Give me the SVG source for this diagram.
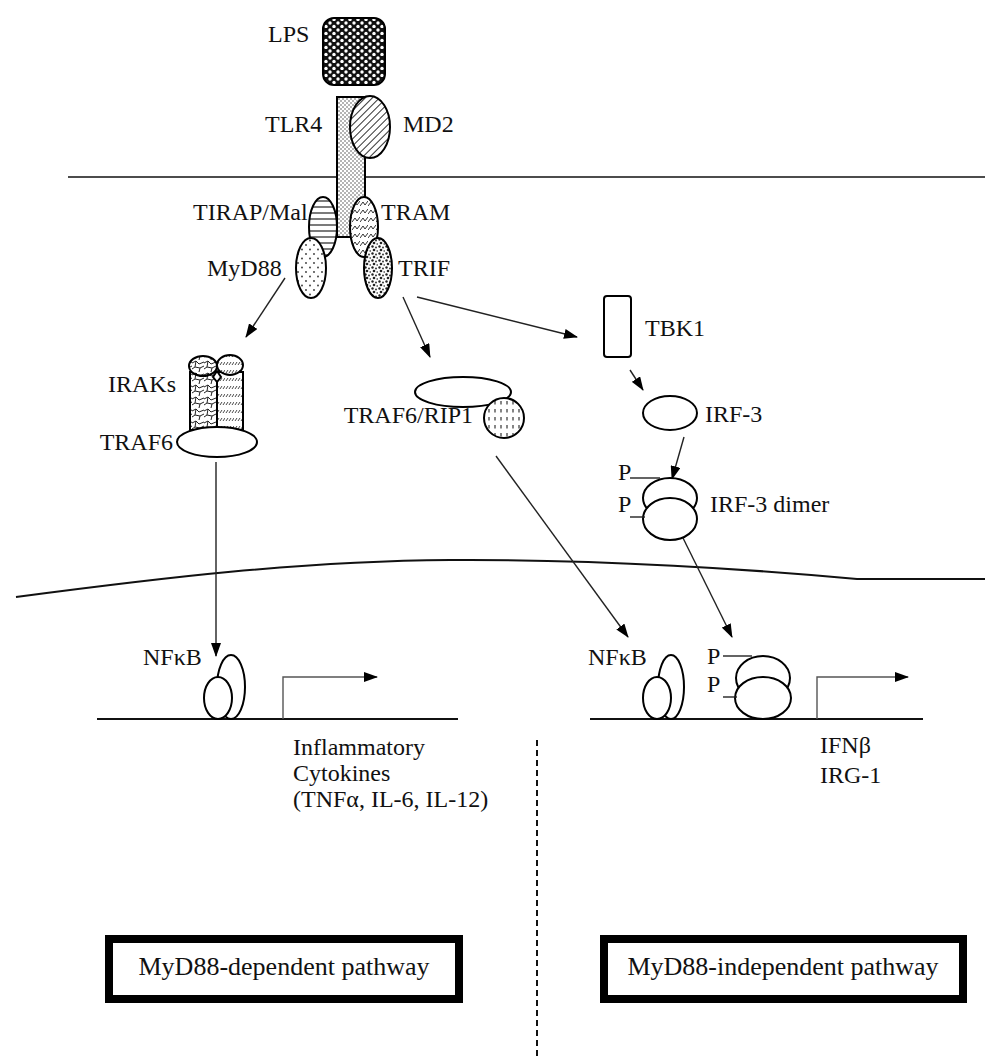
<svg xmlns="http://www.w3.org/2000/svg" width="985" height="1057" viewBox="0 0 985 1057">
<style>
text{font-family:"Liberation Serif","Times New Roman",serif;font-size:24px;fill:#111}
.sh{stroke:#000;stroke-width:2}
.w{fill:#fff}
.ln{fill:none;stroke:#222;stroke-width:1.4}
.ar{fill:none;stroke:#222;stroke-width:1.4;marker-end:url(#ah)}
.box{fill:#fff;stroke:#000;stroke-width:8}
</style>
<defs>
<marker id="ah" viewBox="0 0 14 10" refX="13" refY="5" markerWidth="14" markerHeight="10" markerUnits="userSpaceOnUse" orient="auto">
<path d="M0,0 L14,5 L0,10 Z" fill="#000"/>
</marker>
<pattern id="pLPS" width="8" height="7" patternUnits="userSpaceOnUse">
<rect width="8" height="7" fill="#111"/><circle cx="2" cy="2" r="1.7" fill="#fff"/><circle cx="6" cy="5.5" r="1.7" fill="#fff"/>
</pattern>
<pattern id="pTLR" width="4" height="4" patternUnits="userSpaceOnUse">
<rect width="4" height="4" fill="#fff"/><circle cx="1" cy="1" r="0.8" fill="#555"/><circle cx="3" cy="3" r="0.8" fill="#555"/>
</pattern>
<pattern id="pMD2" width="5" height="5" patternUnits="userSpaceOnUse" patternTransform="rotate(-45)">
<rect width="5" height="5" fill="#fff"/><line x1="0" y1="2.5" x2="5" y2="2.5" stroke="#333" stroke-width="1"/>
</pattern>
<pattern id="pTIR" width="6" height="6" patternUnits="userSpaceOnUse">
<rect width="6" height="6" fill="#fff"/><line x1="0" y1="3" x2="6" y2="3" stroke="#222" stroke-width="1.2"/>
</pattern>
<pattern id="pTRAM" width="8" height="8" patternUnits="userSpaceOnUse">
<rect width="8" height="8" fill="#fff"/><path d="M0,6 L3,2 L5,5 L8,1" fill="none" stroke="#333" stroke-width="1"/>
</pattern>
<pattern id="pMY" width="8" height="9" patternUnits="userSpaceOnUse">
<rect width="8" height="9" fill="#fff"/><circle cx="2" cy="2" r="0.9" fill="#333"/><circle cx="6" cy="6.5" r="0.9" fill="#333"/>
</pattern>
<pattern id="pTRIF" width="7" height="7" patternUnits="userSpaceOnUse">
<rect width="7" height="7" fill="#fff"/><circle cx="1.5" cy="1.5" r="1.2" fill="#222"/><circle cx="5" cy="2.5" r="0.9" fill="#222"/><circle cx="3" cy="5" r="1.3" fill="#222"/><circle cx="6.2" cy="6" r="0.8" fill="#222"/>
</pattern>
<pattern id="pCrk" width="12" height="12" patternUnits="userSpaceOnUse">
<rect width="12" height="12" fill="#fff"/><path d="M0,3 L4,1 L7,4 L12,2 M4,1 L3,7 L0,9 M3,7 L8,8 L12,6 M8,8 L7,12" fill="none" stroke="#222" stroke-width="1"/>
</pattern>
<pattern id="pHat" width="9" height="8" patternUnits="userSpaceOnUse">
<rect width="9" height="8" fill="#fff"/><path d="M1,5 L3,2 M4,5 L6,2 M7,5 L9,2" fill="none" stroke="#333" stroke-width="0.9"/>
</pattern>
<pattern id="pRIP" width="6" height="8" patternUnits="userSpaceOnUse">
<rect width="6" height="8" fill="#fff"/><line x1="3" y1="1" x2="3" y2="4.5" stroke="#333" stroke-width="1.2"/>
</pattern>
</defs>

<g id="membranes">
<line x1="68" y1="177" x2="985" y2="177" stroke="#111" stroke-width="1.6"/>
<path d="M16,597 C160,578 300,561 450,560 C600,559 760,570 857,579 L985,579" fill="none" stroke="#111" stroke-width="2"/>
<line x1="537" y1="740" x2="537" y2="1057" stroke="#111" stroke-width="2" stroke-dasharray="6 4"/>
</g>

<g id="connectors">
<line class="ar" x1="285" y1="278" x2="246" y2="337"/>
<line class="ar" x1="403" y1="297" x2="430" y2="357"/>
<line class="ar" x1="417" y1="297" x2="577" y2="337"/>
<line class="ar" x1="630" y1="370" x2="643" y2="390"/>
<line class="ar" x1="684" y1="437" x2="672" y2="479"/>
<line class="ar" x1="216" y1="462" x2="216" y2="656"/>
<line class="ar" x1="496" y1="456" x2="628" y2="637"/>
<line class="ar" x1="683" y1="538" x2="732" y2="637"/>
</g>

<g id="LPS">
<rect x="323" y="18" width="62" height="67" rx="11" fill="url(#pLPS)" class="sh"/>
<text x="268" y="42">LPS</text>
</g>

<g id="TLR4">
<rect x="337" y="97" width="28" height="140" fill="url(#pTLR)" class="sh"/>
<text x="265" y="132">TLR4</text>
</g>

<g id="MD2">
<ellipse cx="370" cy="127" rx="20" ry="31" fill="url(#pMD2)" class="sh"/>
<text x="403" y="132">MD2</text>
</g>

<g id="TIRAP">
<ellipse cx="323" cy="227" rx="14" ry="30" fill="url(#pTIR)" class="sh"/>
<text x="193" y="220">TIRAP/Mal</text>
</g>

<g id="TRAM">
<ellipse cx="364" cy="227" rx="14" ry="30" fill="url(#pTRAM)" class="sh"/>
<text x="381" y="220">TRAM</text>
</g>

<g id="MyD88">
<ellipse cx="311" cy="268" rx="15" ry="30" fill="url(#pMY)" class="sh"/>
<text x="207" y="276">MyD88</text>
</g>

<g id="TRIF">
<ellipse cx="378" cy="268" rx="14" ry="30" fill="url(#pTRIF)" class="sh"/>
<text x="398" y="276">TRIF</text>
</g>

<g id="IRAKs">
<rect x="190" y="372" width="27" height="58" fill="url(#pCrk)" class="sh"/>
<rect x="217" y="372" width="26" height="58" fill="url(#pHat)" class="sh"/>
<ellipse cx="203" cy="366" rx="14" ry="10" fill="url(#pCrk)" class="sh"/>
<ellipse cx="230" cy="365" rx="13" ry="10" fill="url(#pHat)" class="sh"/>
<path d="M217,371 L221,377 L217,382 L213,377 Z" class="sh w"/>
<text x="176" y="392" text-anchor="end">IRAKs</text>
</g>

<g id="TRAF6">
<ellipse cx="217" cy="442" rx="40" ry="15" class="sh w"/>
<text x="173" y="450" text-anchor="end">TRAF6</text>
</g>

<g id="TRAF6-RIP1">
<ellipse cx="463" cy="392" rx="48" ry="15" class="sh w"/>
<circle cx="504" cy="418" r="20" fill="url(#pRIP)" class="sh"/>
<text x="473" y="423" text-anchor="end">TRAF6/RIP1</text>
</g>

<g id="TBK1">
<rect x="604" y="296" width="27" height="61" rx="3" class="sh w"/>
<text x="645" y="336">TBK1</text>
</g>

<g id="IRF3">
<ellipse cx="670" cy="413" rx="27" ry="17" class="sh w"/>
<text x="705" y="422">IRF-3</text>
</g>

<g id="IRF3-dimer">
<ellipse cx="670" cy="498" rx="27" ry="20" class="sh w"/>
<ellipse cx="670" cy="519" rx="27" ry="21" class="sh w"/>
<line x1="630" y1="478" x2="660" y2="478" class="ln"/>
<line x1="630" y1="517" x2="645" y2="517" class="ln"/>
<text x="618" y="480">P</text>
<text x="618" y="512">P</text>
<text x="710" y="512">IRF-3 dimer</text>
</g>

<g id="gene-left">
<line x1="97" y1="719" x2="458" y2="719" stroke="#111" stroke-width="2"/>
<ellipse cx="231" cy="687" rx="14" ry="32" class="sh w"/>
<ellipse cx="218" cy="698" rx="14" ry="21" class="sh w"/>
<path d="M283,719 V677 H377" class="ar" style="stroke:#555"/>
<text x="143" y="665">NFκB</text>
<text x="293" y="755">Inflammatory</text>
<text x="293" y="781">Cytokines</text>
<text x="293" y="807">(TNFα, IL-6, IL-12)</text>
</g>

<g id="gene-right">
<line x1="590" y1="719" x2="923" y2="719" stroke="#111" stroke-width="2"/>
<ellipse cx="671" cy="687" rx="13" ry="32" class="sh w"/>
<ellipse cx="657" cy="698" rx="14" ry="21" class="sh w"/>
<ellipse cx="763" cy="678" rx="27" ry="22" class="sh w"/>
<ellipse cx="763" cy="698" rx="28" ry="21" class="sh w"/>
<line x1="723" y1="656" x2="752" y2="656" class="ln"/>
<line x1="723" y1="697" x2="737" y2="697" class="ln"/>
<text x="707" y="664">P</text>
<text x="707" y="692">P</text>
<path d="M817,719 V677 H908" class="ar" style="stroke:#555"/>
<text x="588" y="665">NFκB</text>
<text x="820" y="753">IFNβ</text>
<text x="820" y="783">IRG-1</text>
</g>

<g id="box-dependent">
<rect x="109" y="939" width="350" height="60" class="box"/>
<text x="284" y="975" text-anchor="middle" style="font-size:26px">MyD88-dependent pathway</text>
</g>

<g id="box-independent">
<rect x="604" y="939" width="359" height="60" class="box"/>
<text x="783" y="975" text-anchor="middle" style="font-size:26px">MyD88-independent pathway</text>
</g>
</svg>
